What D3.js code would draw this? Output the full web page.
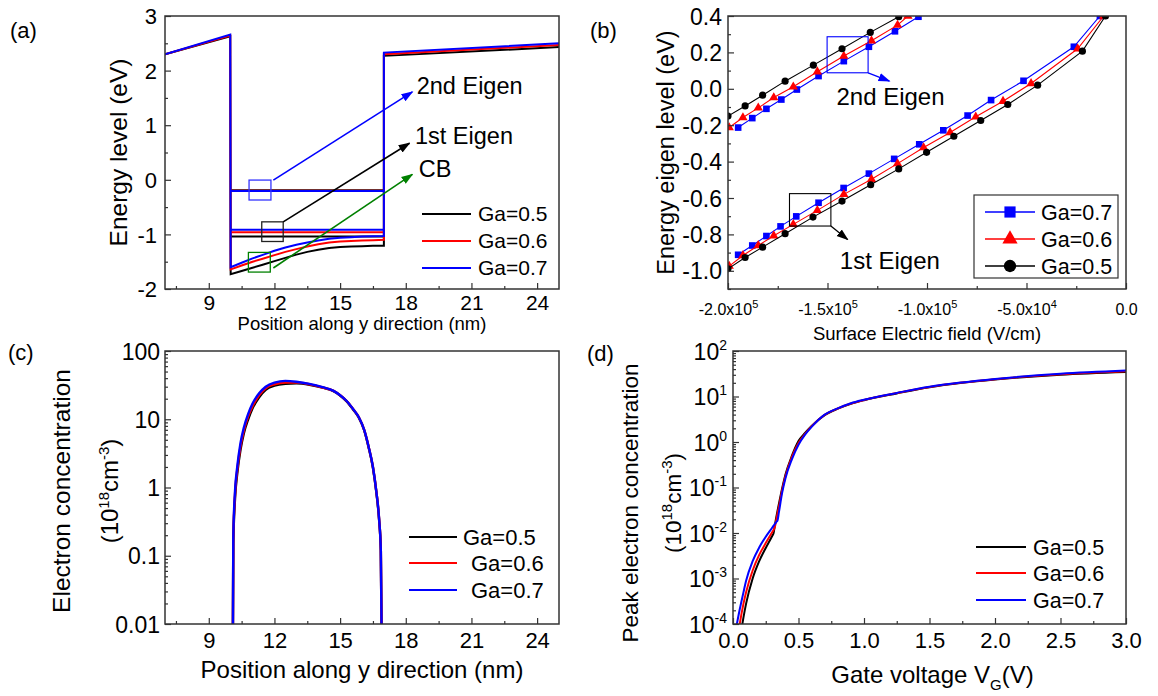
<!DOCTYPE html>
<meta charset="utf-8">
<script src="https://d3js.org/d3.v7.min.js"></script>
<style>
  body { margin: 0; background: #fff; }
  svg text { font-family: Arial, "Liberation Sans", sans-serif; fill: #000; }
</style>
<div id="fig"></div>
<script>
  // ---------- data ----------
  var gaNames = ["Ga=0.5", "Ga=0.6", "Ga=0.7"];
  var gaColors = ["#000000", "#ff0000", "#0000ff"];

  // (a) conduction band along y (nm) -> energy (eV)
  var posA   = [7, 9.98, 10, 10.5, 11, 11.5, 12, 12.5, 13, 13.5, 14, 14.5, 15, 15.5, 16, 16.5, 17, 17, 25];
  var cbGa05 = [2.30, 2.63, -1.73, -1.67, -1.61, -1.55, -1.49, -1.43, -1.37, -1.32, -1.28, -1.25, -1.23, -1.22, -1.215, -1.21, -1.21, 2.27, 2.43];
  var cbGa06 = [2.30, 2.64, -1.64, -1.57, -1.50, -1.44, -1.38, -1.32, -1.27, -1.22, -1.18, -1.15, -1.13, -1.12, -1.11, -1.105, -1.10, 2.30, 2.47];
  var cbGa07 = [2.30, 2.66, -1.60, -1.52, -1.44, -1.37, -1.30, -1.24, -1.19, -1.15, -1.11, -1.08, -1.06, -1.05, -1.04, -1.035, -1.03, 2.33, 2.50];
  var wellEdges = [10, 17];
  var eig1A = [-1.04, -0.96, -0.915];   // Ga=0.5, 0.6, 0.7
  var eig2A = [-0.193, -0.20, -0.205];

  // (b) eigen level (eV) vs surface field (V/cm)
  var e2Field05 = [-2.0e5, -1.914e5, -1.826e5, -1.713e5, -1.571e5, -1.427e5, -1.285e5, -1.142e5];
  var e2Level05 = [-0.150, -0.094, -0.035, 0.042, 0.130, 0.220, 0.310, 0.396];
  var e2Field06 = [-1.994e5, -1.925e5, -1.848e5, -1.770e5, -1.672e5, -1.551e5, -1.418e5, -1.279e5, -1.148e5, -1.096e5];
  var e2Level06 = [-0.213, -0.158, -0.105, -0.048, 0.011, 0.094, 0.180, 0.264, 0.350, 0.40];
  var e2Field07 = [-1.949e5, -1.878e5, -1.807e5, -1.732e5, -1.654e5, -1.545e5, -1.418e5, -1.292e5, -1.161e5, -1.043e5];
  var e2Level07 = [-0.213, -0.161, -0.110, -0.059, -0.004, 0.070, 0.152, 0.231, 0.316, 0.396];
  var e1Field05 = [-2.0e5, -1.914e5, -1.826e5, -1.713e5, -1.573e5, -1.427e5, -1.283e5, -1.142e5, -1.002e5, -0.865e5, -0.730e5, -0.594e5, -0.444e5, -0.219e5, -0.103e5];
  var e1Level05 = [-0.989, -0.927, -0.870, -0.796, -0.705, -0.617, -0.527, -0.440, -0.349, -0.261, -0.174, -0.086, 0.020, 0.207, 0.40];
  var e1Field06 = [-1.994e5, -1.925e5, -1.848e5, -1.770e5, -1.672e5, -1.551e5, -1.418e5, -1.279e5, -1.148e5, -1.017e5, -0.884e5, -0.755e5, -0.618e5, -0.477e5, -0.243e5, -0.112e5];
  var e1Level06 = [-0.974, -0.916, -0.861, -0.807, -0.745, -0.668, -0.580, -0.497, -0.411, -0.323, -0.240, -0.154, -0.068, 0.029, 0.220, 0.40];
  var e1Field07 = [-1.949e5, -1.878e5, -1.807e5, -1.736e5, -1.657e5, -1.545e5, -1.419e5, -1.292e5, -1.165e5, -1.039e5, -0.918e5, -0.796e5, -0.678e5, -0.515e5, -0.262e5, -0.131e5];
  var e1Level07 = [-0.912, -0.861, -0.809, -0.756, -0.701, -0.626, -0.545, -0.466, -0.385, -0.305, -0.228, -0.147, -0.062, 0.044, 0.231, 0.40];

  // (c) electron concentration (1e18 cm^-3) along y (nm)
  var posC  = [10.10, 10.12, 10.2, 10.3, 10.45, 10.6, 10.8, 11.0, 11.3, 11.6, 12.0, 12.5, 13.0, 13.6, 14.2, 14.7, 15.0, 15.3, 15.6, 15.85, 16.1, 16.3, 16.5, 16.65, 16.78, 16.86, 16.90];
  var nCGa05 = [0.005, 0.15, 0.7, 1.6, 3.6, 6.2, 10, 14.5, 21, 27, 31, 33, 33.5, 32, 29, 25.8, 22.3, 18.3, 13.8, 10.6, 6.9, 3.9, 1.95, 0.88, 0.34, 0.12, 0.005];
  var nCGa06 = [0.005, 0.17, 0.8, 1.8, 4.0, 6.8, 11, 15.5, 22.5, 28.5, 32.5, 34.5, 34.5, 32.5, 29.2, 26, 22.5, 18.5, 14, 10.8, 7, 4, 2.0, 0.9, 0.35, 0.12, 0.005];
  var nCGa07 = [0.005, 0.19, 0.9, 2.0, 4.5, 7.5, 12, 17, 24, 30, 34.5, 36.5, 35.5, 33, 29.5, 26, 22.5, 18.5, 14, 10.8, 7, 4, 2.0, 0.9, 0.35, 0.12, 0.005];

  // (d) peak electron concentration (1e18 cm^-3) vs gate voltage (V)
  var vgD = [0.02, 0.05, 0.08, 0.10, 0.15, 0.20, 0.25, 0.30, 0.31, 0.32, 0.33, 0.34, 0.35, 0.375, 0.40, 0.45, 0.50, 0.55, 0.60, 0.70, 0.80, 0.90, 1.0, 1.25, 1.5, 1.75, 2.0, 2.5, 3.0];
  var nDGa05 = [1.0e-5, 4.0e-5, 1.4e-4, 2.8e-4, 1.0e-3, 2.4e-3, 4.7e-3, 8.7e-3, 1.0e-2, 1.51e-2, 2.2e-2, 3.1e-2, 4.3e-2, 9.5e-2, 0.19, 0.50, 1.05, 1.58, 2.25, 3.9, 5.4, 6.9, 8.3, 11.7, 16.0, 20.0, 23.7, 30.2, 34.7];
  var nDGa06 = [2.5e-5, 9.5e-5, 2.8e-4, 5.0e-4, 1.5e-3, 3.3e-3, 6.0e-3, 1.05e-2, 1.17e-2, 1.38e-2, 1.9e-2, 2.7e-2, 3.7e-2, 8.7e-2, 0.174, 0.47, 0.95, 1.51, 2.2, 3.95, 5.45, 7.0, 8.4, 11.9, 16.2, 20.2, 24.0, 30.9, 35.9];
  var nDGa07 = [7.1e-5, 2.0e-4, 5.0e-4, 8.9e-4, 2.4e-3, 4.8e-3, 8.3e-3, 1.32e-2, 1.45e-2, 1.58e-2, 1.74e-2, 1.9e-2, 2.8e-2, 7.6e-2, 0.158, 0.42, 0.87, 1.45, 2.15, 4.0, 5.5, 7.1, 8.5, 12.0, 16.4, 20.4, 24.3, 31.6, 37.2];

  // ---------- drawing helpers ----------
  var svg = d3.select("#fig").append("svg").attr("width", 1158).attr("height", 696);
  var defs = svg.append("defs");

  function arrowHead(id, color) {
    defs.append("marker").attr("id", id)
        .attr("viewBox", "0 0 10 10").attr("refX", 9).attr("refY", 5)
        .attr("markerWidth", 12).attr("markerHeight", 12)
        .attr("markerUnits", "userSpaceOnUse").attr("orient", "auto")
      .append("path").attr("d", "M0,1.5 L10,5 L0,8.5 Z").attr("fill", color);
  }
  arrowHead("arBlue", "#0000ff");
  arrowHead("arBlack", "#000000");
  arrowHead("arGreen", "#008000");

  function panel(id, left, top, w, h) {
    defs.append("clipPath").attr("id", id).append("rect").attr("width", w).attr("height", h);
    var g = svg.append("g").attr("transform", "translate(" + left + "," + top + ")");
    return { g: g, plot: g.append("g").attr("clip-path", "url(#" + id + ")"), w: w, h: h };
  }

  // inward ticks, labels optional
  function axis(p, gen, values, size, bottom, fmt, fontSize, offset) {
    var a = p.g.append("g")
        .attr("transform", bottom ? "translate(0," + p.h + ")" : "translate(0,0)")
        .call(gen.tickValues(values).tickSizeInner(-size).tickSizeOuter(0).tickFormat(fmt || ""));
    a.select(".domain").remove();
    a.selectAll("line").attr("stroke", "#333").attr("stroke-width", 1.2);
    if (fmt) {
      var t = a.selectAll("text").attr("font-size", fontSize).attr("fill", "#000");
      if (bottom) t.attr("y", offset).attr("dy", "0.71em");
      else t.attr("x", -offset).attr("dy", "0.35em");
    }
    return a;
  }

  function frame(p) {
    p.g.append("rect").attr("width", p.w).attr("height", p.h)
      .attr("fill", "none").attr("stroke", "#333").attr("stroke-width", 1.5);
  }

  function richText(g, x, y, parts, size, anchor, rotate) {
    var t = g.append("text")
      .attr("transform", "translate(" + x + "," + y + ")" + (rotate ? " rotate(-90)" : ""))
      .attr("text-anchor", anchor || "start").attr("font-size", size);
    parts.forEach(function(q) {
      t.append("tspan").attr("dy", q.dy || 0).attr("font-size", q.size || size).text(q.s);
    });
    return t;
  }

  function logMinor(lo, hi) {
    var v = [];
    d3.range(lo, hi).forEach(function(e) {
      d3.range(2, 10).forEach(function(k) { v.push(k * Math.pow(10, e)); });
    });
    return v;
  }

  function lineLegend(p, x0, x1, textX, rows, order, size) {
    order.forEach(function(i, r) {
      p.g.append("line").attr("x1", x0).attr("x2", x1).attr("y1", rows[r]).attr("y2", rows[r])
        .attr("stroke", gaColors[i]).attr("stroke-width", 2);
      p.g.append("text").attr("x", textX[r]).attr("y", rows[r]).attr("dy", "0.35em")
        .attr("font-size", size).text(gaNames[i]);
    });
  }

  var plain = function(d) { return String(d); };
  var supParts = function(size) {
    return [{ s: "(10" }, { s: "18", dy: -9, size: 15 }, { s: "cm", dy: 9 },
            { s: "-3", dy: -9, size: 15 }, { s: ")", dy: 9 }];
  };

  // ---------- (a) ----------
  var pa = panel("clipA", 165, 16, 394, 273);
  var xa = d3.scaleLinear().domain([7, 25]).range([0, pa.w]);
  var ya = d3.scaleLinear().domain([-2, 3]).range([pa.h, 0]);
  axis(pa, d3.axisBottom(xa), d3.range(7.5, 25, 3), 3, true);
  axis(pa, d3.axisBottom(xa), d3.range(9, 25, 3), 6, true, plain, 21, 6);
  axis(pa, d3.axisLeft(ya), d3.range(-1.5, 3, 1), 3, false);
  axis(pa, d3.axisLeft(ya), d3.range(-2, 3.5, 1), 6, false, plain, 22, 8);

  var lineA = d3.line().x(function(d) { return xa(d[0]); }).y(function(d) { return ya(d[1]); });
  [cbGa05, cbGa06, cbGa07].forEach(function(cb, i) {
    pa.plot.append("path").datum(d3.zip(posA, cb)).attr("d", lineA)
      .attr("fill", "none").attr("stroke", gaColors[i]).attr("stroke-width", 2);
    [eig1A[i], eig2A[i]].forEach(function(e) {
      pa.plot.append("path").datum([[wellEdges[0], e], [wellEdges[1], e]]).attr("d", lineA)
        .attr("fill", "none").attr("stroke", gaColors[i]).attr("stroke-width", 2);
    });
  });

  var notesA = [
    { box: [10.84, 11.84, -0.005, -0.37], from: [11.95, -0.005], to: [18.30, 1.61], color: "#3333ff", arrow: "arBlue", line: "#0000ff", text: "2nd Eigen", tx: 18.50, ty: 1.73 },
    { box: [11.42, 12.40, -0.77, -1.13], from: [12.40, -0.77], to: [18.17, 0.67], color: "#222222", arrow: "arBlack", line: "#000000", text: "1st Eigen", tx: 18.42, ty: 0.80 },
    { box: [10.81, 11.81, -1.33, -1.69], from: [11.95, -1.615], to: [18.30, 0.10], color: "#008000", arrow: "arGreen", line: "#008000", text: "CB", tx: 18.59, ty: 0.21 }
  ];
  notesA.forEach(function(n) {
    pa.g.append("rect").attr("x", xa(n.box[0])).attr("y", ya(n.box[2]))
      .attr("width", xa(n.box[1]) - xa(n.box[0])).attr("height", ya(n.box[3]) - ya(n.box[2]))
      .attr("fill", "none").attr("stroke", n.color).attr("stroke-width", 1.3);
    pa.g.append("line").attr("x1", xa(n.from[0])).attr("y1", ya(n.from[1]))
      .attr("x2", xa(n.to[0])).attr("y2", ya(n.to[1]))
      .attr("stroke", n.line).attr("stroke-width", 1.6).attr("marker-end", "url(#" + n.arrow + ")");
    pa.g.append("text").attr("x", xa(n.tx)).attr("y", ya(n.ty)).attr("dy", "0.35em")
      .attr("font-size", 23.5).text(n.text);
  });
  lineLegend(pa, 257, 306, [313, 313, 313], [198, 225, 252], [0, 1, 2], 21);
  frame(pa);
  richText(pa.g, pa.w / 2, 314, [{ s: "Position along y direction (nm)" }], 18.5, "middle");
  richText(pa.g, -47 + 8.5, pa.h / 2, [{ s: "Energy level (eV)" }], 24.5, "middle", true);
  richText(svg, 10, 38, [{ s: "(a)" }], 22, "start");

  // ---------- (b) ----------
  var pb = panel("clipB", 728, 16, 398, 273);
  var xb = d3.scaleLinear().domain([-2e5, 0]).range([0, pb.w]);
  var yb = d3.scaleLinear().domain([-1.1, 0.4]).range([pb.h, 0]);
  axis(pb, d3.axisBottom(xb), [-1.75e5, -1.25e5, -0.75e5, -0.25e5], 3, true);
  var axb = axis(pb, d3.axisBottom(xb), [-2e5, -1.5e5, -1e5, -0.5e5, 0], 6, true, plain, 16, 0);
  axb.selectAll("text").attr("y", 26).attr("dy", 0).each(function(d) {
    var t = d3.select(this).text("");
    if (d === 0) { t.append("tspan").text("0.0"); return; }
    var e = Math.floor(Math.log10(Math.abs(d)));
    t.append("tspan").text((d / Math.pow(10, e)).toFixed(1) + "x10");
    t.append("tspan").attr("dy", -7).attr("font-size", 11).text(e);
  });
  axis(pb, d3.axisLeft(yb), [-1.1, -0.9, -0.7, -0.5, -0.3, -0.1, 0.1, 0.3], 3, false);
  axis(pb, d3.axisLeft(yb), [-1.0, -0.8, -0.6, -0.4, -0.2, 0, 0.2, 0.4], 6, false,
       function(d) { return d.toFixed(1); }, 23, 6);

  var seriesB = [
    [e2Field07, e2Level07, 2], [e1Field07, e1Level07, 2],
    [e2Field06, e2Level06, 1], [e1Field06, e1Level06, 1],
    [e2Field05, e2Level05, 0], [e1Field05, e1Level05, 0]
  ];
  var symB = [d3.symbolCircle, d3.symbolTriangle, d3.symbolSquare];
  var symSizeB = [40, 38, 44];
  var lineB = d3.line().x(function(d) { return xb(d[0]); }).y(function(d) { return yb(d[1]); });
  seriesB.forEach(function(s) {
    var pts = d3.zip(s[0], s[1]), c = gaColors[s[2]];
    pb.plot.append("path").datum(pts).attr("d", lineB)
      .attr("fill", "none").attr("stroke", c).attr("stroke-width", 1.1);
    pb.plot.selectAll(null).data(pts).enter().append("path")
      .attr("transform", function(d) { return "translate(" + xb(d[0]) + "," + yb(d[1]) + ")"; })
      .attr("d", d3.symbol().type(symB[s[2]]).size(symSizeB[s[2]]))
      .attr("fill", c);
  });

  // annotation boxes
  var notesB = [
    { box: [-1.502e5, -1.296e5, 0.286, 0.088], from: [-1.296e5, 0.088], to: [-1.189e5, 0.042], color: "#0000ff", arrow: "arBlue", text: "2nd Eigen", tx: -1.455e5, ty: -0.044 },
    { box: [-1.691e5, -1.483e5, -0.576, -0.754], from: [-1.483e5, -0.754], to: [-1.399e5, -0.828], color: "#000000", arrow: "arBlack", text: "1st Eigen", tx: -1.438e5, ty: -0.943 }
  ];
  notesB.forEach(function(n) {
    pb.g.append("rect").attr("x", xb(n.box[0])).attr("y", yb(n.box[2]))
      .attr("width", xb(n.box[1]) - xb(n.box[0])).attr("height", yb(n.box[3]) - yb(n.box[2]))
      .attr("fill", "none").attr("stroke", n.color).attr("stroke-width", 1.1);
    pb.g.append("line").attr("x1", xb(n.from[0])).attr("y1", yb(n.from[1]))
      .attr("x2", xb(n.to[0])).attr("y2", yb(n.to[1]))
      .attr("stroke", n.color).attr("stroke-width", 1.3).attr("marker-end", "url(#" + n.arrow + ")");
    pb.g.append("text").attr("x", xb(n.tx)).attr("y", yb(n.ty)).attr("dy", "0.35em")
      .attr("font-size", 24).text(n.text);
  });

  // legend (b)
  var legB = pb.g.append("g");
  legB.append("rect").attr("x", 246).attr("y", 179).attr("width", 144).attr("height", 83)
    .attr("fill", "#fff").attr("stroke", "#333").attr("stroke-width", 1.2);
  var symSizeLeg = [120, 100, 125];
  [2, 1, 0].forEach(function(i, r) {
    var yy = 196 + r * 27;
    legB.append("line").attr("x1", 257).attr("x2", 307).attr("y1", yy).attr("y2", yy)
      .attr("stroke", gaColors[i]).attr("stroke-width", 1.3);
    legB.append("path").attr("transform", "translate(282," + yy + ")")
      .attr("d", d3.symbol().type(symB[i]).size(symSizeLeg[i])).attr("fill", gaColors[i]);
    legB.append("text").attr("x", 313).attr("y", yy).attr("dy", "0.35em")
      .attr("font-size", 21.5).text(gaNames[i]);
  });
  frame(pb);
  richText(pb.g, pb.w / 2, 324, [{ s: "Surface Electric field (V/cm)" }], 18.5, "middle");
  richText(pb.g, -62 + 8, pb.h / 2, [{ s: "Energy eigen level (eV)" }], 23.5, "middle", true);
  richText(svg, 590, 38, [{ s: "(b)" }], 22, "start");

  // ---------- (c) ----------
  var pc = panel("clipC", 165, 351, 394, 273);
  var xc = d3.scaleLinear().domain([7, 25]).range([0, pc.w]);
  var yc = d3.scaleLog().domain([0.01, 100]).range([pc.h, 0]);
  axis(pc, d3.axisBottom(xc), d3.range(7.5, 25, 3), 3, true);
  axis(pc, d3.axisBottom(xc), d3.range(9, 25, 3), 6, true, plain, 22, 8);
  axis(pc, d3.axisLeft(yc), logMinor(-2, 2), 3, false);
  axis(pc, d3.axisLeft(yc), [0.01, 0.1, 1, 10, 100], 6, false, plain, 23, 5);

  var lineC = d3.line().curve(d3.curveMonotoneX)
      .x(function(d) { return xc(d[0]); }).y(function(d) { return yc(d[1]); });
  [nCGa05, nCGa06, nCGa07].forEach(function(n, i) {
    pc.plot.append("path").datum(d3.zip(posC, n)).attr("d", lineC)
      .attr("fill", "none").attr("stroke", gaColors[i]).attr("stroke-width", 2.4);
  });
  lineLegend(pc, 244, 292, [298, 306, 306], [186, 212, 239], [0, 1, 2], 22);
  frame(pc);
  richText(pc.g, pc.w / 2, 327, [{ s: "Position along y direction (nm)" }], 24, "middle");
  richText(pc.g, -104 + 8.5, 140, [{ s: "Electron concentration" }], 24.5, "middle", true);
  richText(pc.g, -56 + 8.5, 140, supParts(), 24, "middle", true);
  richText(svg, 8, 360, [{ s: "(c)" }], 22, "start");

  // ---------- (d) ----------
  var pd = panel("clipD", 733, 351, 393, 273);
  var xd = d3.scaleLinear().domain([0, 3]).range([0, pd.w]);
  var yd = d3.scaleLog().domain([1e-4, 1e2]).range([pd.h, 0]);
  axis(pd, d3.axisBottom(xd), d3.range(0.25, 3, 0.5), 3, true);
  axis(pd, d3.axisBottom(xd), d3.range(0, 3.01, 0.5), 6, true, function(d) { return d.toFixed(1); }, 22, 8);
  axis(pd, d3.axisLeft(yd), logMinor(-4, 2), 3, false);
  var ayd = axis(pd, d3.axisLeft(yd), [1e-4, 1e-3, 1e-2, 1e-1, 1, 10, 100], 6, false, plain, 23, 6);
  ayd.selectAll("text").each(function(d) {
    var t = d3.select(this).text("");
    t.append("tspan").text("10");
    t.append("tspan").attr("dy", -10).attr("font-size", 14).text(Math.round(Math.log10(d)));
  });

  var lineD = d3.line().curve(d3.curveMonotoneX)
      .x(function(d) { return xd(d[0]); }).y(function(d) { return yd(d[1]); });
  [nDGa05, nDGa06, nDGa07].forEach(function(n, i) {
    pd.plot.append("path").datum(d3.zip(vgD, n)).attr("d", lineD)
      .attr("fill", "none").attr("stroke", gaColors[i]).attr("stroke-width", 2);
  });
  lineLegend(pd, 243, 293, [300, 300, 300], [196, 222, 249], [0, 1, 2], 21.5);
  frame(pd);
  richText(pd.g, pd.w / 2 + 3, 332, [{ s: "Gate voltage V" }, { s: "G", dy: 7, size: 15 }, { s: "(V)", dy: -7 }], 24, "middle");
  richText(pd.g, -103 + 8, 152, [{ s: "Peak electron concentration" }], 22.5, "middle", true);
  richText(pd.g, -60 + 8, 152, supParts(), 22.5, "middle", true);
  richText(svg, 587, 361, [{ s: "(d)" }], 22, "start");
</script>
